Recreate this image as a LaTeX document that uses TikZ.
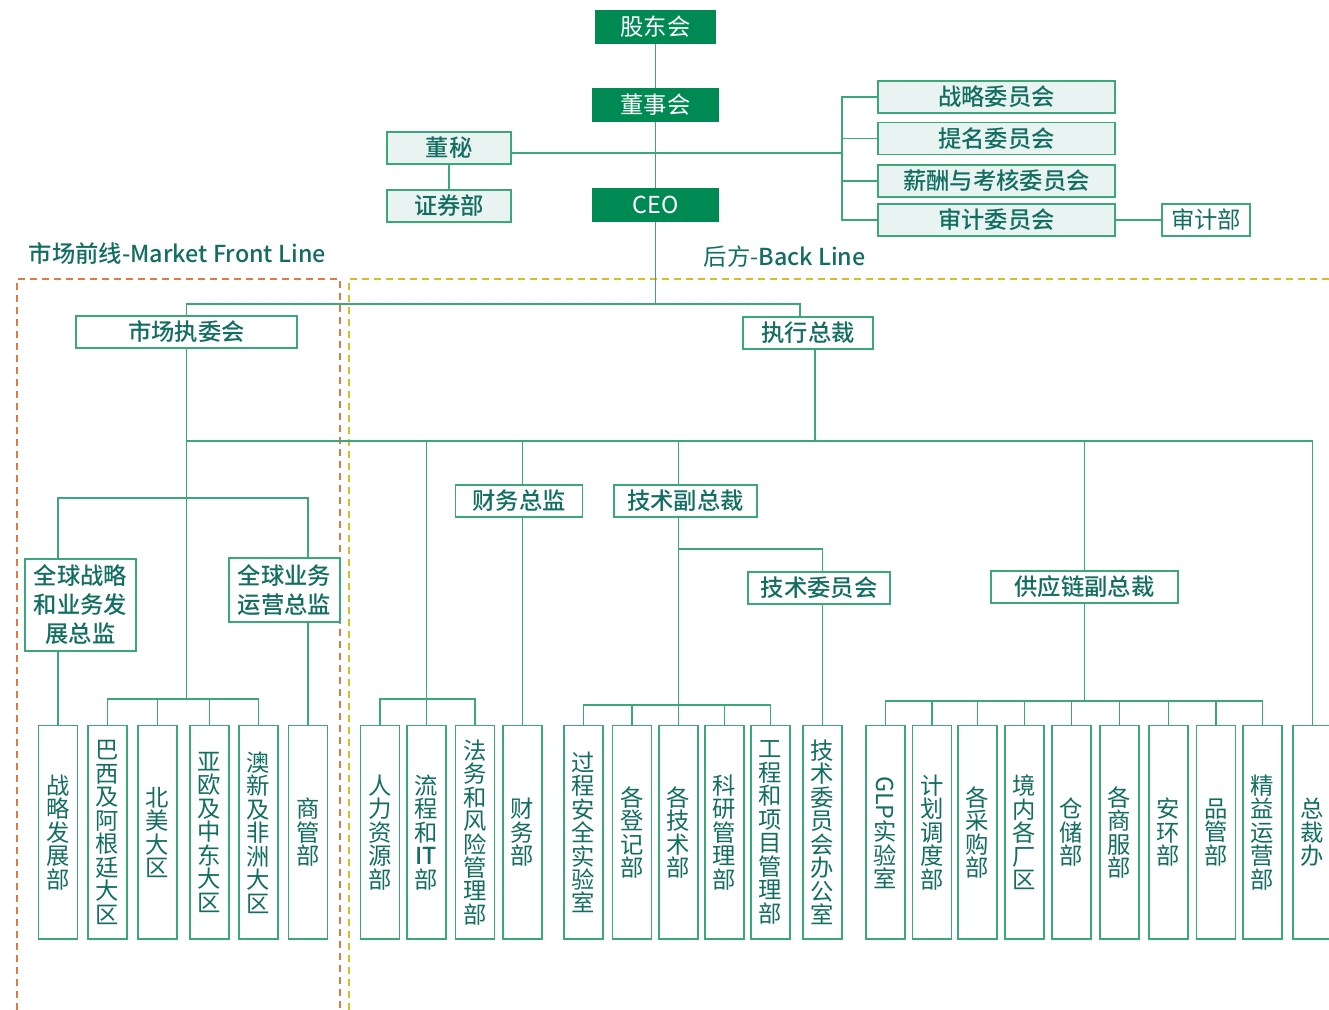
\documentclass[tikz,border=0pt]{standalone}
\usepackage{fontspec}
\setmainfont{Noto Sans CJK SC}[BoldFont={Noto Sans CJK SC Medium}]
\usepackage{graphicx}
\definecolor{bord}{RGB}{58,168,120}
\definecolor{gfill}{RGB}{0,138,83}
\definecolor{lfill}{RGB}{233,243,241}
\definecolor{txt}{RGB}{18,110,96}
\definecolor{mktc}{RGB}{224,122,69}
\definecolor{bkc}{RGB}{214,190,40}
\newcommand{\orgfont}{\fontsize{17.5}{17.6}\selectfont}
\newcommand{\twofont}{\fontsize{17.5}{21.75}\selectfont}
\begin{document}
\begin{tikzpicture}[x=0.75pt,y=-0.75pt,line width=1.1pt,color=bord,
  hdbox/.style={fill=gfill,draw=gfill,text=white,inner sep=0pt,minimum height=24pt,font=\orgfont},
  cmbox/.style={draw=bord,fill=lfill,text=txt,inner sep=0pt,minimum height=24pt,font=\orgfont\bfseries},
  bxbox/.style={draw=bord,fill=white,text=txt,inner sep=0pt,minimum height=24pt,font=\orgfont\bfseries},
  depbox/.style={draw=bord,fill=white,text=txt,inner sep=0pt,minimum width=29.25pt,minimum height=160pt,anchor=north,align=center,font=\orgfont},
  zone/.style={line width=0.9pt,dash pattern=on 5pt off 4pt}]
\useasboundingbox (0,0) rectangle (1329,1010);
\draw[zone,mktc] (17,1010) -- (17,279) -- (340,279) -- (340,1010);
\draw[zone,bkc] (349,1010) -- (349,279) -- (1329,279);
\node[hdbox,minimum width=90pt] (gdh) at (655.5,27) {股东会};
\node[hdbox,minimum width=93.75pt] (dsh) at (655.5,105) {董事会};
\node[hdbox,minimum width=93.75pt] (ceo) at (655.5,205) {CEO};
\node[cmbox,minimum width=93pt] (dm) at (449,148) {董秘};
\node[cmbox,minimum width=93pt] (zqb) at (449,206) {证券部};
\node[cmbox,minimum width=177.75pt] (zlwy) at (996.5,97) {战略委员会};
\node[cmbox,minimum width=177.75pt] (tmwy) at (996.5,138.5) {提名委员会};
\node[cmbox,minimum width=177.75pt] (xcwy) at (996.5,181) {薪酬与考核委员会};
\node[cmbox,minimum width=177.75pt] (sjwy) at (996.5,220) {审计委员会};
\node[bxbox,font=\orgfont,minimum width=66pt] (sjb) at (1206,220) {审计部};
\node[text=txt,font=\orgfont\bfseries,anchor=west,inner sep=0pt] (mktl) at (28,254) {市场前线-Market Front Line};
\node[text=txt,font=\orgfont,anchor=west,inner sep=0pt] (bkl) at (703,257) {后方-\textbf{Back Line}};
\node[bxbox,minimum width=165.75pt] (sczwh) at (186.5,332) {市场执委会};
\node[bxbox,minimum width=97.5pt] (zxzc) at (808,333) {执行总裁};
\node[bxbox,minimum width=83.25pt,minimum height=69pt,align=center,font=\twofont\bfseries] (zlzj) at (80.5,605) {全球战略\\和业务发\\展总监};
\node[bxbox,minimum width=83.25pt,minimum height=48pt,align=center,font=\twofont\bfseries] (yyzj) at (284.5,590) {全球业务\\运营总监};
\node[bxbox,minimum width=95.25pt] (cwzj) at (519,501) {财务总监};
\node[bxbox,minimum width=107.25pt] (jsfz) at (685.5,501) {技术副总裁};
\node[bxbox,minimum width=106.5pt] (jswy) at (819,588) {技术委员会};
\node[bxbox,minimum width=140.25pt] (gylfz) at (1084.5,587) {供应链副总裁};
\node[depbox] (zlfzb) at (58,725) {战\\略\\发\\展\\部};
\node[depbox] (bxagt) at (107.5,725) {巴\\西\\及\\阿\\根\\廷\\大\\区};
\node[depbox] (bmdq) at (157.5,725) {北\\美\\大\\区};
\node[depbox] (ozzd) at (209.5,725) {亚\\欧\\及\\中\\东\\大\\区};
\node[depbox] (afdq) at (258.5,725) {澳\\新\\及\\非\\洲\\大\\区};
\node[depbox] (sgb) at (308,725) {商\\管\\部};
\node[depbox] (rlzy) at (380,725) {人\\力\\资\\源\\部};
\node[depbox] (lcit) at (426.5,725) {流\\程\\和\\\textbf{IT}\\部};
\node[depbox] (fwfx) at (475,725) {法\\务\\和\\风\\险\\管\\理\\部};
\node[depbox] (cwb) at (522.5,725) {财\\务\\部};
\node[depbox] (gcaq) at (583.5,725) {过\\程\\安\\全\\实\\验\\室};
\node[depbox] (gdj) at (632,725) {各\\登\\记\\部};
\node[depbox] (gjsb) at (678.5,725) {各\\技\\术\\部};
\node[depbox] (kygl) at (724.5,725) {科\\研\\管\\理\\部};
\node[depbox] (gcxm) at (770.5,725) {工\\程\\和\\项\\目\\管\\理\\部};
\node[depbox] (jsbgs) at (822.5,725) {技\\术\\委\\员\\会\\办\\公\\室};
\node[depbox] (glp) at (885.5,725) {\rotatebox{-90}{GLP}\\实\\验\\室};
\node[depbox] (jhdd) at (932,725) {计\\划\\调\\度\\部};
\node[depbox] (gcg) at (977.5,725) {各\\采\\购\\部};
\node[depbox] (jngc) at (1024.5,725) {境\\内\\各\\厂\\区};
\node[depbox] (ccb) at (1071.5,725) {仓\\储\\部};
\node[depbox] (gsf) at (1119.5,725) {各\\商\\服\\部};
\node[depbox] (ahb) at (1168.5,725) {安\\环\\部};
\node[depbox] (pgb) at (1216,725) {品\\管\\部};
\node[depbox] (jyyy) at (1262.5,725) {精\\益\\运\\营\\部};
\node[depbox] (zcb) at (1312.5,725) {总\\裁\\办};
\draw (gdh) -- (dsh);
\draw (dsh) -- (ceo);
\draw (dm) -- (zqb);
\coordinate (br) at (842,153);
\draw (dm.east |- br) -- (br);
\foreach \n in {zlwy,tmwy,xcwy,sjwy} \draw (br) |- (\n.west);
\draw (sjwy) -- (sjb);
\coordinate (fk) at (655.5,304);
\draw (ceo) -- (fk);
\draw (fk) -| (sczwh);
\draw (fk) -| ([xshift=-6pt]zxzc.north);
\coordinate (bl) at (186.5,441);
\draw ([xshift=5.25pt]zxzc.south) -- ([xshift=5.25pt]zxzc.south |- bl);
\draw (bl) -| (zcb);
\coordinate (rj) at (186.5,699);
\draw (sczwh) -- (rj);
\coordinate (gj) at (186.5,498);
\draw (gj) -| (zlzj.north -| zlfzb);
\draw (gj) -| (yyzj.north -| sgb);
\draw (zlzj.south -| zlfzb) -- (zlfzb);
\draw (yyzj.south -| sgb) -- (sgb);
\draw (rj) -| (bxagt);
\draw (rj) -| (afdq);
\draw (bmdq) -- (bmdq.north |- rj);
\draw (ozzd) -- (ozzd.north |- rj);
\draw (bl -| lcit) -- (lcit);
\draw (rj -| lcit) -| (rlzy);
\draw (rj -| lcit) -| (fwfx);
\draw (bl -| cwb) -- (cwb |- cwzj.north);
\draw (cwb |- cwzj.south) -- (cwb);
\draw (bl -| gjsb) -- (gjsb |- jsfz.north);
\draw (gjsb |- jsfz.south) -- (gjsb);
\coordinate (tj) at (678.5,705);
\draw (tj) -| (gcaq);
\draw (tj) -| (gcxm);
\draw (gdj) -- (gdj.north |- tj);
\draw (kygl) -- (kygl.north |- tj);
\coordinate (tw) at (678.5,549);
\draw (tw) -| (jsbgs |- jswy.north);
\draw (jsbgs |- jswy.south) -- (jsbgs);
\draw (bl -| gylfz) -- (gylfz);
\coordinate (sj) at (1084.5,701);
\draw (gylfz) -- (sj);
\draw (sj) -| (glp);
\draw (sj) -| (jyyy);
\foreach \n in {jhdd,gcg,jngc,ccb,gsf,ahb,pgb} \draw (\n) -- (\n.north |- sj);
\end{tikzpicture}
\end{document}
